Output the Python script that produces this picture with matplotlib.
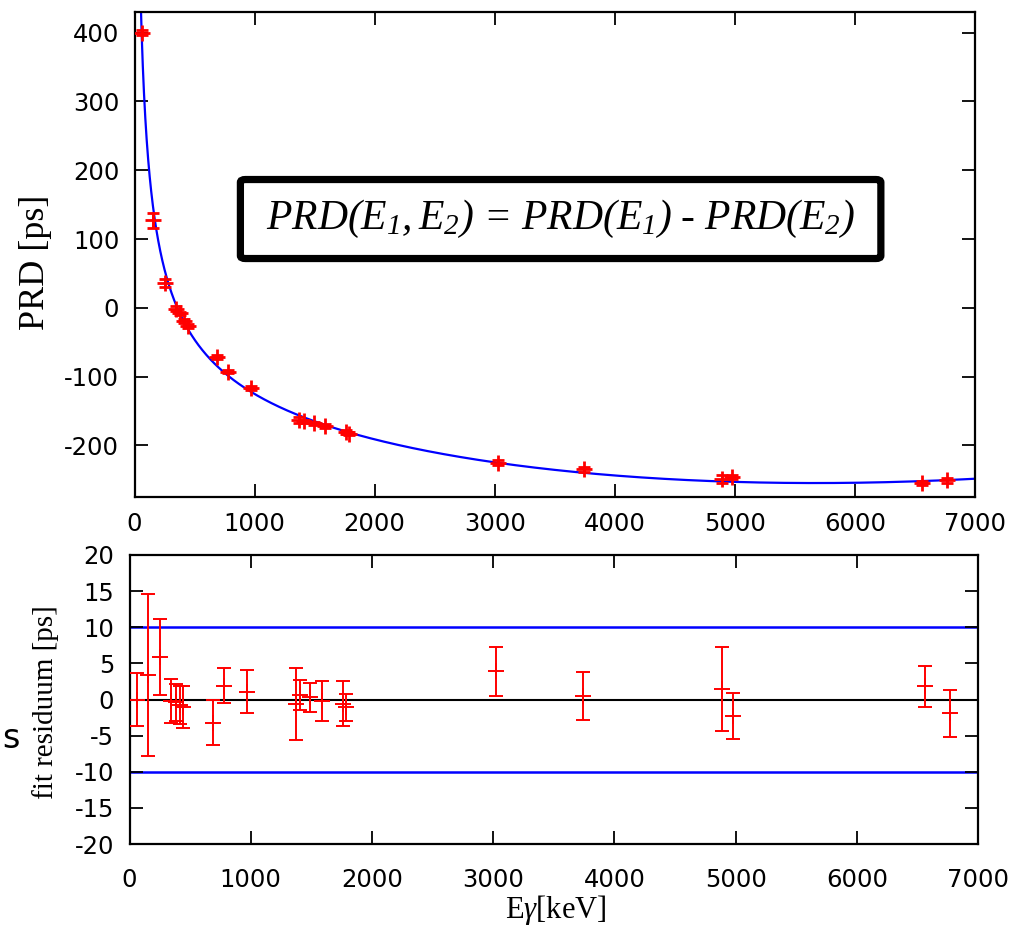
import numpy as np
import matplotlib
matplotlib.use("Agg")
import matplotlib.pyplot as plt
from matplotlib.patches import FancyBboxPatch

plt.rcParams['font.family'] = ['DejaVu Sans']
plt.rcParams['axes.unicode_minus'] = False
plt.rcParams['mathtext.fontset'] = 'custom'
plt.rcParams['mathtext.it'] = 'Liberation Serif:italic'
plt.rcParams['mathtext.rm'] = 'Liberation Serif:italic'

# ---- data ----
energy = [59.5, 150, 250, 345, 382, 413, 445, 690, 780, 970, 1370, 1408,
          1492, 1590, 1760, 1785, 3025, 3740, 4890, 4975, 6560, 6765]
prd = [400, 127, 36, -1, -8, -19, -27, -72, -93, -117, -163, -165,
       -168, -172, -181, -183, -225, -235, -249, -246, -255, -251]
err = [3.7, 11.2, 5.3, 3.0, 2.6, 2.6, 2.9, 3.1, 2.4, 3.0, 5.0, 2.1,
       2.0, 2.8, 3.1, 1.9, 3.35, 3.3, 5.8, 3.2, 2.8, 3.25]
residual = [0.0, 3.4, 5.9, -0.2, -0.4, -0.8, -1.0, -3.2, 1.9, 1.1, -0.6, 0.6,
            0.3, -0.2, -0.6, -1.1, 3.9, 0.5, 1.4, -2.3, 1.8, -1.9]
xticks = [0, 1000, 2000, 3000, 4000, 5000, 6000, 7000]
yticks_top = [-200, -100, 0, 100, 200, 300, 400]
yticks_bot = [-20, -15, -10, -5, 0, 5, 10, 15, 20]
band = [-10, 10]

E = np.array(energy, float)
Y = np.array(prd, float)
S = np.array(err, float)
# fitted value at each point (residual plotted as fit - data)
Yfit_pts = Y + np.array(residual, float)

# weighted fit of PRD(E) = a/sqrt(E+b) + c + d*E + e*E^2
best = None
for b in np.linspace(-59.0, 400.0, 2500):
    X = np.column_stack([1 / np.sqrt(E + b), np.ones_like(E), E, E ** 2])
    coef, *_ = np.linalg.lstsq(X / S[:, None], Yfit_pts / S, rcond=None)
    chi = np.sum(((X @ coef - Yfit_pts) / S) ** 2)
    if best is None or chi < best[0]:
        best = (chi, b, coef)
_, bfit, cfit = best
Ef = np.linspace(max(-bfit + 0.02, 0.5), 7000, 5000)
Yf = (cfit[0] / np.sqrt(Ef + bfit) + cfit[1] + cfit[2] * Ef
      + cfit[3] * Ef ** 2)

W, H = 1017, 927
fig = plt.figure(figsize=(W / 100, H / 100), dpi=100)

ax1 = fig.add_axes([134.5 / W, 1 - 497 / H, (975 - 134.5) / W, (497 - 11.7) / H])
ax2 = fig.add_axes([129.5 / W, 1 - 844 / H, (978 - 129.5) / W, (844 - 555) / H])

red = '#ff0000'
blue = '#0000ff'

ax1.plot(Ef, Yf, color=blue, lw=1.6, zorder=2)
ax1.errorbar(E, Y, yerr=S, fmt='+', color=red, ms=12, mew=2.0,
             elinewidth=2.0, capsize=4.5, capthick=2.0, zorder=3)
ax1.set_xlim(0, 7000)
ax1.set_ylim(-275, 430.5)
ax1.set_xticks(xticks)
ax1.set_yticks(yticks_top)

ax2.axhline(0, color='black', lw=1.5, zorder=1)
for v in band:
    ax2.axhline(v, color=blue, lw=1.8, zorder=1)
ax2.errorbar(E, residual, yerr=S, fmt='+', color=red, ms=11, mew=1.4,
             elinewidth=1.4, capsize=5, capthick=1.4, zorder=3)
ax2.set_xlim(0, 7000)
ax2.set_ylim(-20, 20)
ax2.set_xticks(xticks)
ax2.set_yticks(yticks_bot)

for ax in (ax1, ax2):
    ax.tick_params(direction='in', top=True, right=True, length=9.5,
                   width=1.3, labelsize=17.5, colors='black')
    for sp in ax.spines.values():
        sp.set_linewidth(1.6)
ax1.tick_params(axis='both', pad=11)
ax2.tick_params(axis='y', pad=11)
ax2.tick_params(axis='x', pad=17)

# formula box
box = FancyBboxPatch((0.126, 0.4914), 0.888 - 0.126, 0.6542 - 0.4914,
                     boxstyle='round,pad=0,rounding_size=0.006',
                     transform=ax1.transAxes, facecolor='white',
                     edgecolor='black', lw=5.2, zorder=5)
ax1.add_patch(box)
ax1.text(0.507, 0.573,
         r'$PRD(E_{1},E_{2})\ \text{=}\ PRD(E_{1})\ \text{-}\ PRD(E_{2})$',
         transform=ax1.transAxes, ha='center', va='center', fontsize=30,
         zorder=6)

# axis labels
fig.text(35 / W, 1 - 262 / H, 'PRD [ps]', rotation=90, ha='center',
         va='center', fontsize=26, family='Liberation Serif')
fig.text(46 / W, 1 - 702 / H, 'fit residuum [ps]', rotation=90, ha='center',
         va='center', fontsize=21, family='Liberation Serif')
fig.text(556 / W, 1 - 910 / H, r'E$\gamma$[keV]', ha='center', va='center',
         fontsize=22, family='Liberation Serif')

# cropped stray text fragment at the left edge of the reference
fig.text(2 / W, 1 - 739 / H, 's', ha='left', va='center', fontsize=24)

fig.savefig('out.png', dpi=100)
